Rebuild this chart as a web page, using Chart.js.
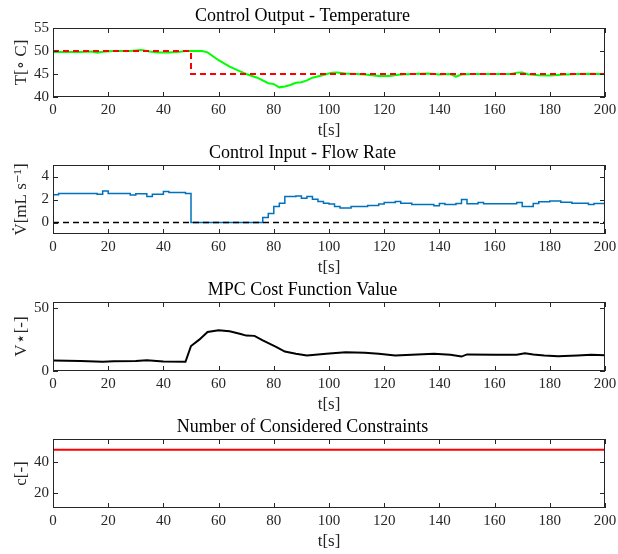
<!DOCTYPE html>
<html>
<head>
<meta charset="utf-8">
<title>MPC simulation</title>
<script src="https://cdn.jsdelivr.net/npm/chart.js@4.4.1/dist/chart.umd.min.js"></script>
<style>
  html, body { margin: 0; padding: 0; background: #fff; }
  #wrap { position: relative; width: 618px; height: 554px; }
  .panel { position: absolute; left: 0; width: 618px; height: 137px; }
</style>
</head>
<body>
<div id="wrap">
  <div class="panel" style="top:0px"><canvas id="tempChart" width="618" height="137"></canvas></div>
  <div class="panel" style="top:137px"><canvas id="flowChart" width="618" height="137"></canvas></div>
  <div class="panel" style="top:274px"><canvas id="costChart" width="618" height="137"></canvas></div>
  <div class="panel" style="top:411px"><canvas id="consChart" width="618" height="137"></canvas></div>
</div>
<script>
// time axis [s]
const timeTicks = [0, 20, 40, 60, 80, 100, 120, 140, 160, 180, 200];

// temperature setpoint [°C]
const setpointTime  = [0, 50, 50, 200];
const setpointValue = [50, 50, 45, 45];

// measured temperature [°C]
const tempTime  = [0, 4, 10, 14, 16, 18, 22, 28, 32, 35, 38, 42, 46, 48, 54, 56, 60, 64, 68, 70,
                   74, 78, 80, 82, 84, 86, 88, 90, 92, 94, 98, 101, 103, 106, 110, 114, 118, 122, 125, 130,
                   136, 140, 144, 146, 148, 152, 160, 166, 168, 170, 172, 176, 180, 184, 190, 194, 200];
const tempValue = [49.8, 49.8, 49.8, 49.9, 49.65, 49.85, 50.0, 50.0, 50.2, 49.9, 49.65, 49.7, 49.85, 50.0, 50.0, 49.7, 48.0, 46.6, 45.5, 45.0,
                   44.2, 43.0, 42.8, 42.1, 42.3, 42.6, 43.1, 43.2, 43.6, 44.2, 44.8, 45.3, 45.35, 45.1, 45.0, 44.85, 44.55, 44.55, 44.85, 45.0,
                   45.1, 44.9, 45.0, 44.4, 44.9, 45.0, 45.0, 45.0, 45.3, 45.35, 44.95, 44.75, 44.7, 44.85, 45.0, 45.05, 45.0];

// flow rate input [mL/s], piecewise constant from each time on
const flowTime  = [0, 2, 16, 18, 20, 28, 30, 34, 36, 40, 42, 48, 50, 76, 78, 80, 82, 84, 88, 90,
                   92, 94, 96, 98, 100, 102, 104, 108, 114, 118, 120, 124, 126, 130, 138, 140, 142, 146, 148, 150,
                   154, 156, 168, 170, 174, 176, 180, 184, 188, 194, 196, 200];
const flowValue = [2.41, 2.52, 2.45, 2.73, 2.52, 2.40, 2.50, 2.26, 2.45, 2.70, 2.60, 2.52, 0, 0.43, 0.78, 1.39, 1.68, 2.26, 2.30, 2.10,
                   2.26, 2.03, 1.83, 1.68, 1.60, 1.40, 1.26, 1.40, 1.48, 1.60, 1.74, 1.83, 1.68, 1.57, 1.45, 1.65, 1.57, 1.65, 2.00, 1.62,
                   1.74, 1.62, 1.74, 1.40, 1.65, 1.80, 1.88, 1.77, 1.68, 1.57, 1.65, 1.65];
const zeroTime  = [0, 200];
const zeroValue = [0, 0];

// optimal cost V*
const costTime  = [0, 10, 18, 22, 30, 34, 40, 48, 50, 53, 56, 60, 64, 68, 70, 73, 76, 81, 84, 88,
                   92, 99, 106, 113, 118, 124, 130, 138, 144, 148, 150, 160, 168, 171, 174, 178, 183, 190, 195, 200];
const costValue = [8.3, 8.0, 7.3, 7.8, 8.0, 8.5, 7.6, 7.3, 19.9, 25.0, 31.1, 32.5, 31.6, 29.5, 28.2, 28.0, 24.4, 19.0, 15.5, 13.7,
                   12.3, 13.7, 15.0, 14.5, 13.8, 12.3, 13.0, 13.7, 13.0, 11.5, 13.2, 13.0, 12.9, 14.2, 13.2, 12.3, 11.8, 12.3, 12.9, 12.6];

// number of considered constraints
const consTime  = [0, 200];
const consValue = [48, 48];

// y-axis ticks per panel
const tempTicks = [40, 45, 50, 55];
const flowTicks = [0, 2, 4];
const costTicks = [0, 50];
const consTicks = [20, 40];

const SERIF = '"Liberation Serif", "DejaVu Serif", serif';
const AXIS_COLOR = '#262626';

function points(xs, ys) {
  return xs.map((x, i) => ({ x: x, y: ys[i] }));
}

// axes box with inward tick marks on all four sides
const boxTicks = {
  id: 'boxTicks',
  afterDatasetsDraw(chart) {
    const { ctx, chartArea: a, scales: { x, y } } = chart;
    ctx.save();
    ctx.strokeStyle = AXIS_COLOR;
    ctx.lineWidth = 1;
    ctx.beginPath();
    x.ticks.forEach(t => {
      const px = Math.round(x.getPixelForValue(t.value)) + 0.5;
      ctx.moveTo(px, a.bottom); ctx.lineTo(px, a.bottom - 5);
      ctx.moveTo(px, a.top); ctx.lineTo(px, a.top + 5);
    });
    y.ticks.forEach(t => {
      const py = Math.round(y.getPixelForValue(t.value)) + 0.5;
      ctx.moveTo(a.left, py); ctx.lineTo(a.left + 5, py);
      ctx.moveTo(a.right, py); ctx.lineTo(a.right - 5, py);
    });
    ctx.stroke();
    ctx.strokeRect(a.left + 0.5, a.top + 0.5, a.width - 1, a.height - 1);
    ctx.restore();
  }
};

function makePanel(id, title, yTitle, yMin, yMax, yTicks, datasets) {
  return new Chart(document.getElementById(id), {
    type: 'line',
    data: { datasets: datasets },
    plugins: [boxTicks],
    options: {
      responsive: false,
      animation: false,
      layout: { padding: { left: 0, right: 13, top: 0, bottom: 0 } },
      elements: { point: { radius: 0 }, line: { tension: 0 } },
      plugins: {
        legend: { display: false },
        tooltip: { enabled: false },
        title: {
          display: true,
          text: title,
          color: '#000',
          font: { family: SERIF, size: 18, weight: 'normal', lineHeight: 1.2 },
          padding: { top: 5.2, bottom: 1.2 }
        }
      },
      scales: {
        x: {
          type: 'linear',
          min: 0,
          max: 200,
          afterBuildTicks: s => { s.ticks = timeTicks.map(v => ({ value: v })); },
          // fixed height, and let the end labels hang over the margins
          afterFit: s => { s.height = 40; s.paddingLeft = 0; s.paddingRight = 0; },
          grid: { display: false, drawTicks: false },
          border: { display: false },
          ticks: { color: AXIS_COLOR, font: { family: SERIF, size: 15 }, padding: 4, maxRotation: 0, autoSkip: false },
          title: { display: true, text: 't[s]', color: AXIS_COLOR, font: { family: SERIF, size: 17, lineHeight: 0.8 }, padding: 0 }
        },
        y: {
          type: 'linear',
          min: yMin,
          max: yMax,
          afterBuildTicks: s => { s.ticks = yTicks.map(v => ({ value: v })); },
          afterFit: s => { s.width = 53; },
          grid: { display: false, drawTicks: false },
          border: { display: false },
          ticks: { color: AXIS_COLOR, font: { family: SERIF, size: 15 }, padding: 4 },
          title: { display: true, text: yTitle, color: AXIS_COLOR, font: { family: SERIF, size: 17, lineHeight: 1 }, padding: { top: 13.5, bottom: 0 } }
        }
      }
    }
  });
}

makePanel('tempChart', 'Control Output - Temperature', 'T[∘ C]', 40, 55, tempTicks, [
  { data: points(setpointTime, setpointValue), borderColor: '#ff0000', borderWidth: 2, borderDash: [6, 4] },
  { data: points(tempTime, tempValue), borderColor: '#00ff00', borderWidth: 2 }
]);

makePanel('flowChart', 'Control Input - Flow Rate', 'V̇[mL s⁻¹]', -1, 5, flowTicks, [
  { data: points(zeroTime, zeroValue), borderColor: '#000000', borderWidth: 1.5, borderDash: [6, 4] },
  { data: points(flowTime, flowValue), borderColor: '#0072bd', borderWidth: 1.5, stepped: true }
]);

makePanel('costChart', 'MPC Cost Function Value', 'V⋆[-]', 0, 55, costTicks, [
  { data: points(costTime, costValue), borderColor: '#000000', borderWidth: 2 }
]);

makePanel('consChart', 'Number of Considered Constraints', 'c[-]', 10, 55, consTicks, [
  { data: points(consTime, consValue), borderColor: '#ff0000', borderWidth: 2 }
]);
</script>
</body>
</html>
